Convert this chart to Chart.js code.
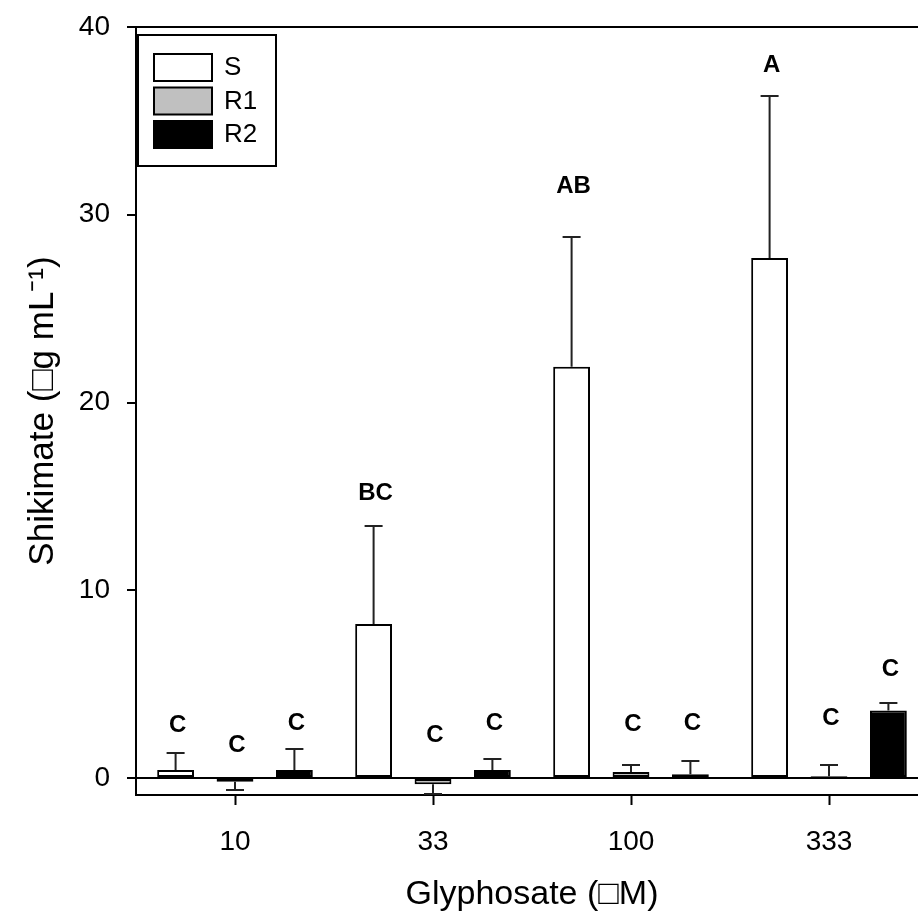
<!DOCTYPE html>
<html>
<head>
<meta charset="utf-8">
<script src="https://cdn.jsdelivr.net/npm/chart.js@4.4.1/dist/chart.umd.min.js"></script>
<style>
html, body { margin: 0; padding: 0; background: #fff; overflow: hidden; }
#wrap { width: 940px; height: 922px; }
</style>
</head>
<body>
<div id="wrap"><canvas id="chart" width="940" height="922"></canvas></div>
<script>
// glyphosate doses (x categories)
var categories = ['10', '33', '100', '333'];
var seriesNames = ['S', 'R1', 'R2'];

// shikimate means and standard errors
var valuesS = [0.43, 8.2, 21.9, 27.7];
var valuesR1 = [-0.2, -0.33, 0.32, 0.1];
var valuesR2 = [0.43, 0.43, 0.2, 3.6];
var errS = [0.9, 5.2, 6.9, 8.6];
var errR1 = [0.45, 0.5, 0.4, 0.6];
var errR2 = [1.1, 0.6, 0.7, 0.4];

// significance letters and the height (in data units) they sit at
var lettersS = ['C', 'BC', 'AB', 'A'];
var lettersR1 = ['C', 'C', 'C', 'C'];
var lettersR2 = ['C', 'C', 'C', 'C'];
var letterYS = [2.82, 15.18, 31.53, 37.98];
var letterYR1 = [1.76, 2.29, 2.88, 3.2];
var letterYR2 = [2.93, 2.93, 2.93, 5.8];

var yTicks = [0, 10, 20, 30, 40];

var fontFamily = "'Liberation Sans', Arial, Helvetica, sans-serif";

var errorBars = {
    id: 'errorBars',
    afterDatasetsDraw: function (chart) {
        var ctx = chart.ctx;
        var y = chart.scales.y;
        ctx.save();
        ctx.strokeStyle = '#222';
        ctx.lineWidth = 2;
        chart.data.datasets.forEach(function (ds, i) {
            var meta = chart.getDatasetMeta(i);
            meta.data.forEach(function (bar, j) {
                var v = ds.data[j];
                var end = v >= 0 ? v + ds.errors[j] : v - ds.errors[j];
                var yEnd = Math.round(y.getPixelForValue(end));
                ctx.beginPath();
                ctx.moveTo(bar.x, bar.y);
                ctx.lineTo(bar.x, yEnd);
                ctx.moveTo(bar.x - 9, yEnd);
                ctx.lineTo(bar.x + 9, yEnd);
                ctx.stroke();
            });
        });
        ctx.restore();
    }
};

var letterLabels = {
    id: 'letterLabels',
    afterDatasetsDraw: function (chart) {
        var ctx = chart.ctx;
        var y = chart.scales.y;
        ctx.save();
        ctx.fillStyle = '#000';
        ctx.font = 'bold 24px ' + fontFamily;
        ctx.textAlign = 'center';
        ctx.textBaseline = 'middle';
        chart.data.datasets.forEach(function (ds, i) {
            var meta = chart.getDatasetMeta(i);
            meta.data.forEach(function (bar, j) {
                ctx.fillText(ds.letters[j], bar.x + 2, y.getPixelForValue(ds.letterY[j]));
            });
        });
        ctx.restore();
    }
};

var boxLegend = {
    id: 'boxLegend',
    afterDraw: function (chart) {
        var ctx = chart.ctx;
        var area = chart.chartArea;
        var left = area.left + 2;
        var top = area.top + 8;
        ctx.save();
        ctx.fillStyle = '#fff';
        ctx.fillRect(left, top, 138, 131);
        ctx.strokeStyle = '#000';
        ctx.lineWidth = 2;
        ctx.strokeRect(left, top, 138, 131);
        ctx.font = '26px ' + fontFamily;
        ctx.textBaseline = 'middle';
        chart.data.datasets.forEach(function (ds, i) {
            var sy = top + 19 + i * 33.5;
            ctx.fillStyle = ds.backgroundColor;
            ctx.fillRect(left + 16, sy, 58, 27);
            ctx.strokeStyle = '#000';
            ctx.lineWidth = 2;
            ctx.strokeRect(left + 16, sy, 58, 27);
            ctx.fillStyle = '#000';
            ctx.fillText(ds.label, left + 86, sy + 14);
        });
        ctx.restore();
    }
};

var config = {
    type: 'bar',
    data: {
        labels: categories,
        datasets: [{
            label: seriesNames[0],
            data: valuesS,
            errors: errS,
            letters: lettersS,
            letterY: letterYS,
            backgroundColor: '#ffffff'
        }, {
            label: seriesNames[1],
            data: valuesR1,
            errors: errR1,
            letters: lettersR1,
            letterY: letterYR1,
            backgroundColor: '#c0c0c0'
        }, {
            label: seriesNames[2],
            data: valuesR2,
            errors: errR2,
            letters: lettersR2,
            letterY: letterYR2,
            backgroundColor: '#000000'
        }]
    },
    options: {
        responsive: false,
        animation: false,
        datasets: {
            bar: {
                borderColor: '#000',
                borderWidth: 2,
                borderSkipped: false,
                categoryPercentage: 0.9,
                barPercentage: 0.62
            }
        },
        layout: {
            padding: { top: 27, right: 12, left: 0, bottom: 0 }
        },
        plugins: {
            legend: { display: false },
            tooltip: { enabled: false },
            title: { display: false }
        },
        scales: {
            x: {
                grid: {
                    display: true,
                    drawOnChartArea: false,
                    drawTicks: true,
                    offset: false,
                    tickLength: 10,
                    tickWidth: 2,
                    tickColor: '#000'
                },
                border: { display: true, color: '#000', width: 2 },
                ticks: {
                    color: '#000',
                    padding: 20,
                    font: { family: fontFamily, size: 28 }
                },
                title: {
                    display: true,
                    text: 'Glyphosate (\u25A1M)',
                    color: '#000',
                    font: { family: fontFamily, size: 34 },
                    padding: { top: 0, bottom: 7 }
                },
                afterFit: function (scale) {
                    scale.height = 127;
                    scale.paddingLeft = 0;
                    scale.paddingRight = 0;
                }
            },
            y: {
                min: -0.9,
                max: 40,
                afterBuildTicks: function (scale) {
                    scale.ticks = yTicks.map(function (v) { return { value: v }; });
                },
                grid: {
                    color: function (c) {
                        return (c.tick && (c.tick.value === 0 || c.tick.value === 40)) ? '#000' : 'rgba(0,0,0,0)';
                    },
                    lineWidth: 2,
                    tickLength: 9,
                    tickWidth: 2,
                    tickColor: '#000'
                },
                border: { display: true, color: '#000', width: 2 },
                ticks: {
                    color: '#000',
                    padding: 17,
                    font: { family: fontFamily, size: 28 }
                },
                title: {
                    display: true,
                    text: 'Shikimate (\u25A1g mL\u207B\u00B9)',
                    color: '#000',
                    font: { family: fontFamily, size: 35 },
                    padding: { top: 22, bottom: 0 }
                },
                afterFit: function (scale) {
                    scale.width = 136;
                    scale.paddingTop = 0;
                    scale.paddingBottom = 0;
                }
            }
        }
    },
    plugins: [errorBars, letterLabels, boxLegend]
};

var ctx = document.getElementById('chart').getContext('2d');
new Chart(ctx, config);
</script>
</body>
</html>
